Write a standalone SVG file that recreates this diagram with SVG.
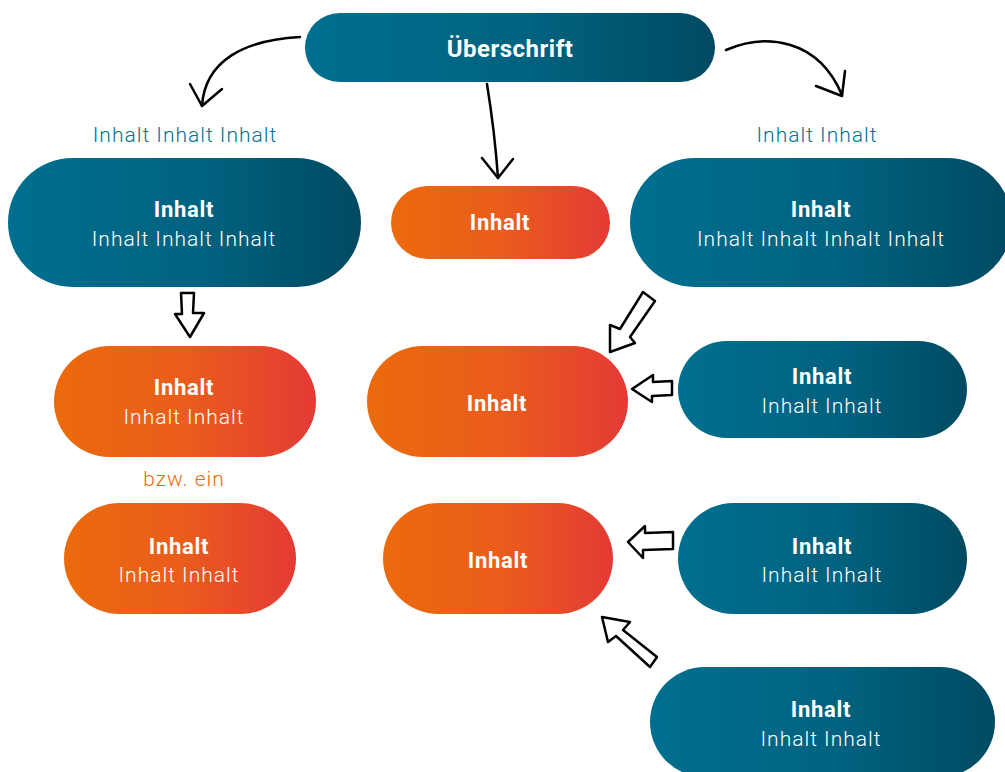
<svg xmlns="http://www.w3.org/2000/svg" width="1005" height="772" viewBox="0 0 1005 772">
<defs>
<linearGradient id="gb" x1="0" y1="0" x2="1" y2="0"><stop offset="0" stop-color="#006f8f"/><stop offset="0.55" stop-color="#00627f"/><stop offset="1" stop-color="#004a62"/></linearGradient>
<linearGradient id="go" x1="0" y1="0" x2="1" y2="0"><stop offset="0" stop-color="#ec6a0c"/><stop offset="0.5" stop-color="#ea5d1c"/><stop offset="1" stop-color="#e43a35"/></linearGradient>
</defs>
<style>
.b{fill:url(#gb)}
.o{fill:url(#go)}
text{font-family:Roboto,"Liberation Sans",sans-serif;text-anchor:middle;font-size:21px;fill:#fff}
.h{font-weight:bold;font-size:22px;letter-spacing:0.7px}
.r{font-weight:300;letter-spacing:1px}
.lt{fill:#0a6f8e;font-weight:300;letter-spacing:1px}
.lo{fill:#ec6a0c;font-weight:300;letter-spacing:1px}
.ln{fill:none;stroke:#000;stroke-width:2.5;stroke-linecap:round;stroke-linejoin:round}
.bl{fill:#fff;stroke:#000;stroke-width:2.5;stroke-linejoin:round}
</style>
<g id="n0"><rect class="b" x="305" y="13" width="410" height="69" rx="34.5"/><text class="h" x="510" y="57" style="font-size:24px;letter-spacing:0.5px">Überschrift</text></g>
<g id="n1"><rect class="b" x="8" y="158" width="353" height="129" rx="64.5"/><text class="h" x="184" y="217">Inhalt</text><text class="r" x="184" y="246">Inhalt Inhalt Inhalt</text></g>
<g id="n2"><rect class="o" x="391" y="186" width="219" height="73" rx="36.5"/><text class="h" x="500" y="230">Inhalt</text></g>
<g id="n3"><rect class="b" x="630" y="158" width="382" height="129" rx="64.5"/><text class="h" x="821" y="217">Inhalt</text><text class="r" x="821" y="246">Inhalt Inhalt Inhalt Inhalt</text></g>
<g id="n4"><rect class="o" x="54" y="346" width="262" height="111" rx="55.5"/><text class="h" x="184" y="395">Inhalt</text><text class="r" x="184" y="424">Inhalt Inhalt</text></g>
<g id="n5"><rect class="o" x="367" y="346" width="261" height="111" rx="55.5"/><text class="h" x="497" y="411">Inhalt</text></g>
<g id="n6"><rect class="b" x="678" y="341" width="289" height="97" rx="48.5"/><text class="h" x="822" y="384">Inhalt</text><text class="r" x="822" y="413">Inhalt Inhalt</text></g>
<g id="n7"><rect class="o" x="64" y="503" width="232" height="111" rx="55.5"/><text class="h" x="179" y="554">Inhalt</text><text class="r" x="179" y="582">Inhalt Inhalt</text></g>
<g id="n8"><rect class="o" x="383" y="503" width="230" height="111" rx="55.5"/><text class="h" x="498" y="568">Inhalt</text></g>
<g id="n9"><rect class="b" x="678" y="503" width="289" height="111" rx="55.5"/><text class="h" x="822" y="554">Inhalt</text><text class="r" x="822" y="582">Inhalt Inhalt</text></g>
<g id="n10"><rect class="b" x="650" y="667" width="345" height="110" rx="55"/><text class="h" x="821" y="717">Inhalt</text><text class="r" x="821" y="746">Inhalt Inhalt</text></g>
<g id="labels">
<text class="lt" x="185" y="142">Inhalt Inhalt Inhalt</text>
<text class="lt" x="817" y="142">Inhalt Inhalt</text>
<text class="lo" x="184" y="486">bzw. ein</text>
</g>
<g id="connectors">
<path class="ln" d="M300,37 C245,40 205,60 202,106"/>
<path class="ln" d="M190,84 L202,106 L222,89"/>
<path class="ln" d="M487,84 C492,115 496,150 498,178"/>
<path class="ln" d="M482,158 L498,178 L513,159"/>
<path class="ln" d="M726,50 C765,33 818,38 842,95"/>
<path class="ln" d="M816,86 L842,96 L845,71"/>
<polygon class="bl" points="181,293 194,293 193,313 204,313 190,337 175,314 182,314"/>
<polygon class="bl" points="643,292 655,301 630,337 635,343 610,352 610,325 620,329"/>
<polygon class="bl" points="632,389 653,375 653,382 672,381 672,395 652,396 652,402"/>
<polygon class="bl" points="628,542 645,526 645,533 673,532 673,549 643,550 643,558"/>
<polygon class="bl" points="602,617 630,622 623,630 657,657 650,667 616,636 608,642"/>
</g>
</svg>
